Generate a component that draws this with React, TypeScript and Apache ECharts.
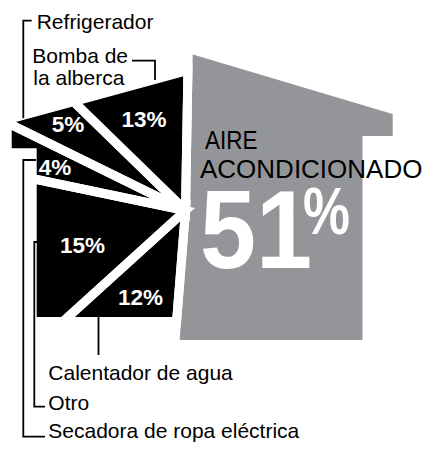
import React, { useEffect, useRef } from 'react';
import * as echarts from 'echarts';

// ---------- data ----------
const categories = [
  'Aire acondicionado',
  'Calentador de agua',
  'Otro',
  'Secadora de ropa eléctrica',
  'Refrigerador',
  'Bomba de la alberca',
];
const values = [51, 12, 15, 4, 5, 13];

// ---------- layout ----------
type Pt = [number, number];
const FONT = '"Liberation Sans", Arial, sans-serif';
const BLACK = '#000000';
const GREY = '#939598';
const CENTER: Pt = [185.5, 210.5];
const START_DEG = 1; // clockwise from north
const GAP = 9;
const HALF = GAP / 2;

const blackRoof = (x: number) => 119 - HALF * 1.04 - 0.272 * (x - 26.7);
const BLACK_HOUSE: Pt[] = [
  [11.7 - HALF, blackRoof(11.7 - HALF)],
  [215, blackRoof(215)],
  [215, 317 + HALF],
  [36.7 - HALF, 317 + HALF],
  [36.7 - HALF, 148.3 + HALF],
  [11.7 - HALF, 148.3 + HALF],
];
const greyRoof = (x: number) => 54 - HALF * 1.04 + 0.2985 * (x - 191.7);
const GREY_HOUSE: Pt[] = [
  [150, greyRoof(150)],
  [392.7 + HALF, greyRoof(392.7 + HALF)],
  [392.7 + HALF, 136 + HALF],
  [362.5 + HALF, 136 + HALF],
  [362.5 + HALF, 340 + HALF],
  [150, 340 + HALF],
];

const PCT_POS: Pt[] = [[0, 0], [140.5, 297], [82.5, 245], [55, 167], [68, 124], [144, 119.5]];

const total = values.reduce((a, b) => a + b, 0);
const starts: number[] = [];
{
  let acc = START_DEG;
  for (const v of values) {
    starts.push(acc);
    acc += (v / total) * 360;
  }
}

function dir(a: number): Pt {
  const r = (a * Math.PI) / 180;
  return [Math.sin(r), -Math.cos(r)];
}

function hit(outline: Pt[], a: number) {
  const [dx, dy] = dir(a);
  const [cx, cy] = CENTER;
  let best = { t: Infinity, i: -1, u: 0, p: [0, 0] as Pt };
  const n = outline.length;
  for (let i = 0; i < n; i++) {
    const p = outline[i];
    const q = outline[(i + 1) % n];
    const ex = q[0] - p[0];
    const ey = q[1] - p[1];
    const den = dx * ey - dy * ex;
    if (Math.abs(den) < 1e-9) continue;
    const wx = p[0] - cx;
    const wy = p[1] - cy;
    const t = (wx * ey - wy * ex) / den;
    const u = (wx * dy - wy * dx) / den;
    if (t > 1e-6 && u >= -1e-9 && u <= 1 + 1e-9 && t < best.t) {
      best = { t, i, u, p: [cx + t * dx, cy + t * dy] };
    }
  }
  return best;
}

function slicePolygon(outline: Pt[], a0: number, a1: number): Pt[] {
  const h0 = hit(outline, a0);
  const h1 = hit(outline, a1);
  const pts: Pt[] = [CENTER, h0.p];
  const n = outline.length;
  if (!(h0.i === h1.i && h1.u >= h0.u)) {
    let k = (h0.i + 1) % n;
    for (let guard = 0; guard < n + 1; guard++) {
      pts.push(outline[k]);
      if (k === h1.i) break;
      k = (k + 1) % n;
    }
  }
  pts.push(h1.p);
  return pts;
}

function polyFor(i: number, v: number): Pt[] {
  const a0 = starts[i];
  const a1 = a0 + (v / total) * 360;
  return slicePolygon(i === 0 ? GREY_HOUSE : BLACK_HOUSE, a0, a1);
}

const line = (points: Pt[]) => ({
  type: 'polyline',
  z: 20,
  shape: { points },
  style: { stroke: BLACK, lineWidth: 1.8, fill: null },
});

const label = (text: string, x: number, y: number, opts: any = {}) => ({
  type: 'text',
  z: 20,
  x,
  y,
  scaleX: opts.scaleX ?? 1,
  style: {
    text,
    x: 0,
    y: 0,
    fill: opts.fill ?? BLACK,
    fontSize: opts.fontSize ?? 21,
    fontWeight: opts.fontWeight ?? 'normal',
    fontFamily: FONT,
    align: 'left',
    verticalAlign: 'middle',
  },
});

export default function App() {
  const ref = useRef<HTMLDivElement>(null);

  useEffect(() => {
    if (!ref.current) return;
    const chart = echarts.init(ref.current, undefined, { renderer: 'svg' });

    const mainWords = categories[0].toUpperCase().split(' ');
    const bombaWords = categories[5].split(' ');

    chart.setOption({
      animation: false,
      backgroundColor: '#ffffff',
      series: [
        {
          type: 'custom',
          coordinateSystem: 'none',
          silent: true,
          z: 2,
          data: values.map((v) => [v]),
          renderItem: (params: any, api: any) => {
            const i = params.dataIndex;
            const pts = polyFor(i, api.value(0));
            return {
              type: 'polygon',
              shape: { points: pts },
              style: { fill: i === 0 ? GREY : BLACK },
            };
          },
        },
        {
          type: 'custom',
          coordinateSystem: 'none',
          silent: true,
          z: 3,
          data: values.map((v) => [v]),
          renderItem: (params: any, api: any) => {
            const i = params.dataIndex;
            const v = api.value(0);
            const pts = polyFor(i, v);
            const children: any[] = [
              {
                type: 'polygon',
                shape: { points: pts },
                style: {
                  fill: 'none',
                  stroke: '#ffffff',
                  lineWidth: GAP,
                  lineJoin: 'miter',
                  miterLimit: 3,
                },
              },
            ];
            if (i === 0) {
              children.push({
                type: 'text',
                x: 200,
                y: 230,
                scaleX: 0.9,
                style: {
                  text: String(v),
                  fill: '#ffffff',
                  fontSize: 112,
                  fontWeight: 'bold',
                  fontFamily: FONT,
                  align: 'left',
                  verticalAlign: 'middle',
                },
              });
              children.push({
                type: 'text',
                x: 303,
                y: 211,
                scaleX: 0.8,
                style: {
                  text: '%',
                  fill: '#ffffff',
                  fontSize: 66,
                  fontWeight: 'bold',
                  fontFamily: FONT,
                  align: 'left',
                  verticalAlign: 'middle',
                },
              });
            } else {
              children.push({
                type: 'text',
                x: PCT_POS[i][0],
                y: PCT_POS[i][1],
                style: {
                  text: v + '%',
                  fill: '#ffffff',
                  fontSize: 22.5,
                  fontWeight: 'bold',
                  fontFamily: FONT,
                  align: 'center',
                  verticalAlign: 'middle',
                },
              });
            }
            return { type: 'group', children };
          },
        },
      ],
      graphic: {
        elements: [
          label(mainWords[0], 205, 140, { fontSize: 25, scaleX: 0.9 }),
          label(mainWords.slice(1).join(' '), 200, 169, { fontSize: 25, scaleX: 1.04 }),
          label(categories[4], 36.7, 21.7),
          label(bombaWords.slice(0, 2).join(' '), 32.3, 55.5),
          label(bombaWords.slice(2).join(' '), 33.3, 77.5),
          label(categories[1], 48.3, 372.5),
          label(categories[2], 48.3, 402.5),
          label(categories[3], 48.3, 430.5),
          line([[31.7, 20.7], [23.3, 20.7], [23.3, 118.3]]),
          line([[132, 60.7], [155, 60.7], [155, 80]]),
          line([[98.5, 316], [98.5, 355]]),
          line([[37, 242], [34.3, 242], [34.3, 406.7], [45, 406.7]]),
          line([[36, 160], [23.3, 160], [23.3, 436.7], [45, 436.7]]),
        ],
      },
    });

    return () => chart.dispose();
  }, []);

  return (
    <div
      ref={ref}
      style={{ position: 'absolute', left: 0, top: 0, width: 426, height: 454 }}
    />
  );
}
